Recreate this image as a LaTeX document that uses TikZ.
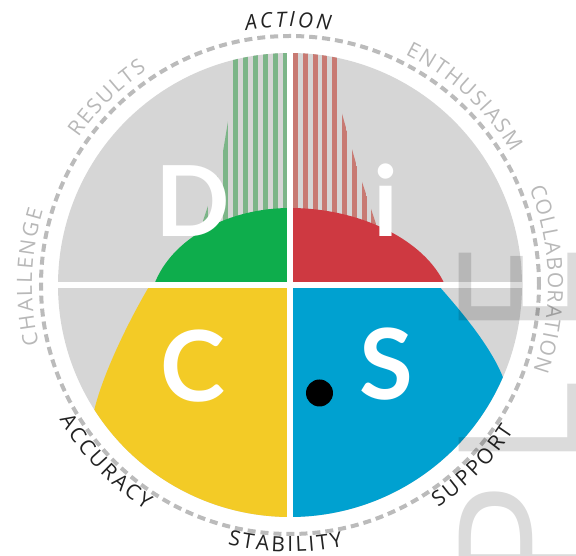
\documentclass[tikz,border=0pt]{standalone}
\usepackage{fontspec}
\setmainfont{Open Sans}
\newfontfamily\labelfont{Open Sans}
\newfontfamily\letterfont{Lato}
\usetikzlibrary{decorations.text}

\definecolor{discgray}{RGB}{214,214,214}
\definecolor{dashgray}{RGB}{187,187,187}
\definecolor{lightlabel}{RGB}{184,184,184}
\definecolor{darklabel}{RGB}{34,34,34}
\definecolor{discgreen}{RGB}{14,173,76}
\definecolor{discred}{RGB}{206,57,65}
\definecolor{discyellow}{RGB}{243,203,38}
\definecolor{discblue}{RGB}{0,161,208}
\definecolor{stripegreen}{RGB}{124,181,136}
\definecolor{stripered}{RGB}{200,122,115}

% labels on the upper half: read clockwise, tops outward
% #1 centre angle, #2 half span, #3 colour, #4 text
\newcommand{\arclabelup}[4]{%
  \path[decorate,decoration={text along path,text align={fit to path},text color=#3,
    text={|\labelfont\fontsize{21}{21}\selectfont#4}}]
    (#1+#2:258pt) arc[start angle=#1+#2,end angle=#1-#2,radius=258pt];}
% labels on the lower half: read counterclockwise, tops inward
\newcommand{\arclabeldown}[4]{%
  \path[decorate,decoration={text along path,text align={fit to path},text color=#3,
    text={|\labelfont\fontsize{21}{21}\selectfont#4}}]
    (#1-#2:267pt) arc[start angle=#1-#2,end angle=#1+#2,radius=267pt];}

\begin{document}
\begin{tikzpicture}[x=1pt,y=1pt,
    letter/.style={text=white,font=\letterfont\bfseries\fontsize{98}{98}\selectfont,inner sep=0pt,anchor=base},
    divider/.style={white,line width=6.5pt},
    ring/.style={draw=dashgray,line width=4pt,dash pattern=on 8pt off 5pt}]
    \clip (-290,-271) rectangle (286,285);

    \fill[discgray] (0,0) circle[radius=232pt];

    % striped bars above D and i
    \begin{scope}
        \clip (0,0) circle[radius=232pt];
        \clip (-2,0) -- (-2,240) -- (-57,240) -- (-59,182) -- (-70,115) -- (-90,55) -- (-115,0) -- cycle;
        \foreach \k in {0,...,11}
            \fill[stripegreen] (-7-10*\k,0) rectangle (-2-10*\k,240);
    \end{scope}
    \begin{scope}
        \clip (0,0) circle[radius=232pt];
        \clip (2,0) -- (2,240) -- (48,240) -- (49,182) -- (67,118) -- (87,58) -- (112,0) -- cycle;
        \foreach \k in {0,...,11}
            \fill[stripered] (3+9.8*\k,0) rectangle (8+9.8*\k,240);
    \end{scope}

    % quadrants
    \fill[discgreen] (0,0) -- (0,77) .. controls (-60,77) and (-118,48) .. (-136,0) -- cycle;
    \fill[discred] (0,0) -- (0,77) .. controls (70,77) and (135,45) .. (155,0) -- cycle;
    \fill[discyellow] (0,0) -- (-140,0) .. controls (-158,-30) and (-186,-85) .. (212.5:232pt)
        arc[start angle=212.5,end angle=270,radius=232pt] -- cycle;
    \fill[discblue] (0,0) -- (148,0) .. controls (170,-25) and (200,-60) .. (336.6:232pt)
        arc[start angle=336.6,end angle=270,radius=232pt] -- cycle;

    \draw[divider] (0,-236) -- (0,236);
    \draw[divider] (-236,0) -- (236,0);

    \node[letter] (D) at (-97,48) {D};
    \node[letter] (i) at (96,48) {i};
    \node[letter] (C) at (-97,-117) {C};
    \node[letter] (S) at (96,-115) {S};
    \node[circle,fill=black,minimum size=27pt,inner sep=0pt] (dot) at (29.5,-108) {};

    \draw[ring] (0,0) circle[radius=249pt];

    \arclabelup{90.4}{9.4}{darklabel}{\itshape|ACTION}
    \arclabelup{134.4}{10.7}{lightlabel}{|RESULTS}
    \arclabelup{47.2}{16.3}{lightlabel}{|ENTHUSIASM}
    \arclabelup{178.2}{15.1}{lightlabel}{|CHALLENGE}
    \arclabelup{1.3}{20.7}{lightlabel}{|COLLABORATION}
    \arclabeldown{223.8}{13.5}{darklabel}{|ACCURACY}
    \arclabeldown{269}{12.5}{darklabel}{|STABILITY}
    \arclabeldown{315.3}{11.6}{darklabel}{|SUPPORT}

    % faint lettering at the right edge
    \node[rotate=90,anchor=base east,inner sep=0pt,text=black,text opacity=0.14,
        font=\fontsize{170}{170}\selectfont] (people) at (290,42)
        {P\kern42pt E\kern42pt O\kern42pt P\kern15pt L\kern42pt E};
\end{tikzpicture}
\end{document}
